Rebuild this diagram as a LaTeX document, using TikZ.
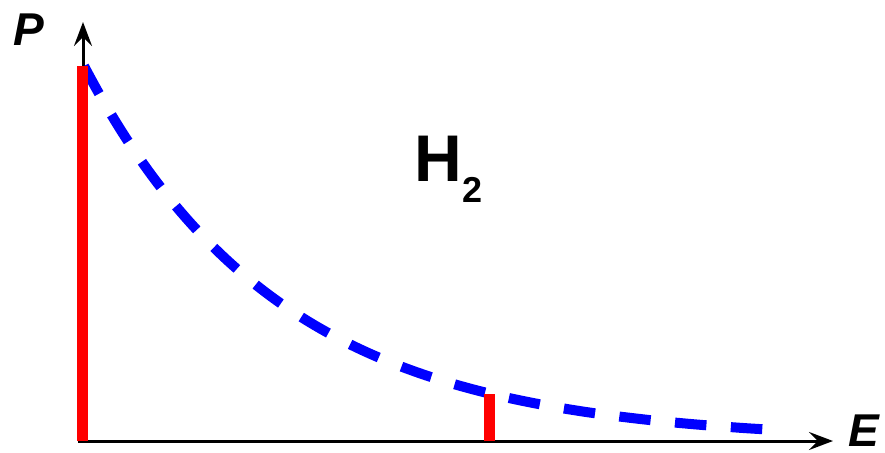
\documentclass[tikz,border=0pt]{standalone}
\usepackage{fontspec}
\setmainfont{Liberation Sans}
\usetikzlibrary{arrows.meta}
\tikzset{
  axisline/.style={draw=black, line width=3pt, -{Stealth[length=24pt,width=18pt,inset=9pt]}},
  redbar/.style={draw=red, line width=11.5pt},
  bluecurve/.style={draw=blue, line width=10pt, dash pattern=on 31.5pt off 24.5pt},
  axislabel/.style={inner sep=0pt, font=\fontsize{46}{46}\selectfont\bfseries\itshape},
}
\begin{document}
\begin{tikzpicture}[x=1pt,y=-1pt]
\useasboundingbox (0,0) rectangle (885,452);
\coordinate (O) at (83,441);
\coordinate (ytip) at (83,22);
\coordinate (xtip) at (833,441);
\coordinate (xstart) at (78,441);
\draw[axisline] (O) -- (ytip);
\draw[axisline] (xstart) -- (xtip);
\draw[bluecurve] plot[domain=84:763, samples=120, smooth] (\x, {441-375*exp(-0.0051*(\x-84))});
\coordinate (r1top) at (82.5,66);
\coordinate (r1bot) at (82.5,441);
\coordinate (r2top) at (489.5,394);
\coordinate (r2bot) at (489.5,441);
\draw[redbar] (r1bot) -- (r1top);
\draw[redbar] (r2bot) -- (r2top);
\node[axislabel] (P) at (29,29.2) {P};
\node[axislabel] (E) at (864,430.5) {E};
\node[inner sep=0pt, font=\fontsize{66}{66}\selectfont\bfseries] (H) at (438,158.5) {H};
\node[inner sep=0pt, font=\fontsize{36}{36}\selectfont\bfseries] (two) at (472.5,190) {2};
\end{tikzpicture}
\end{document}
